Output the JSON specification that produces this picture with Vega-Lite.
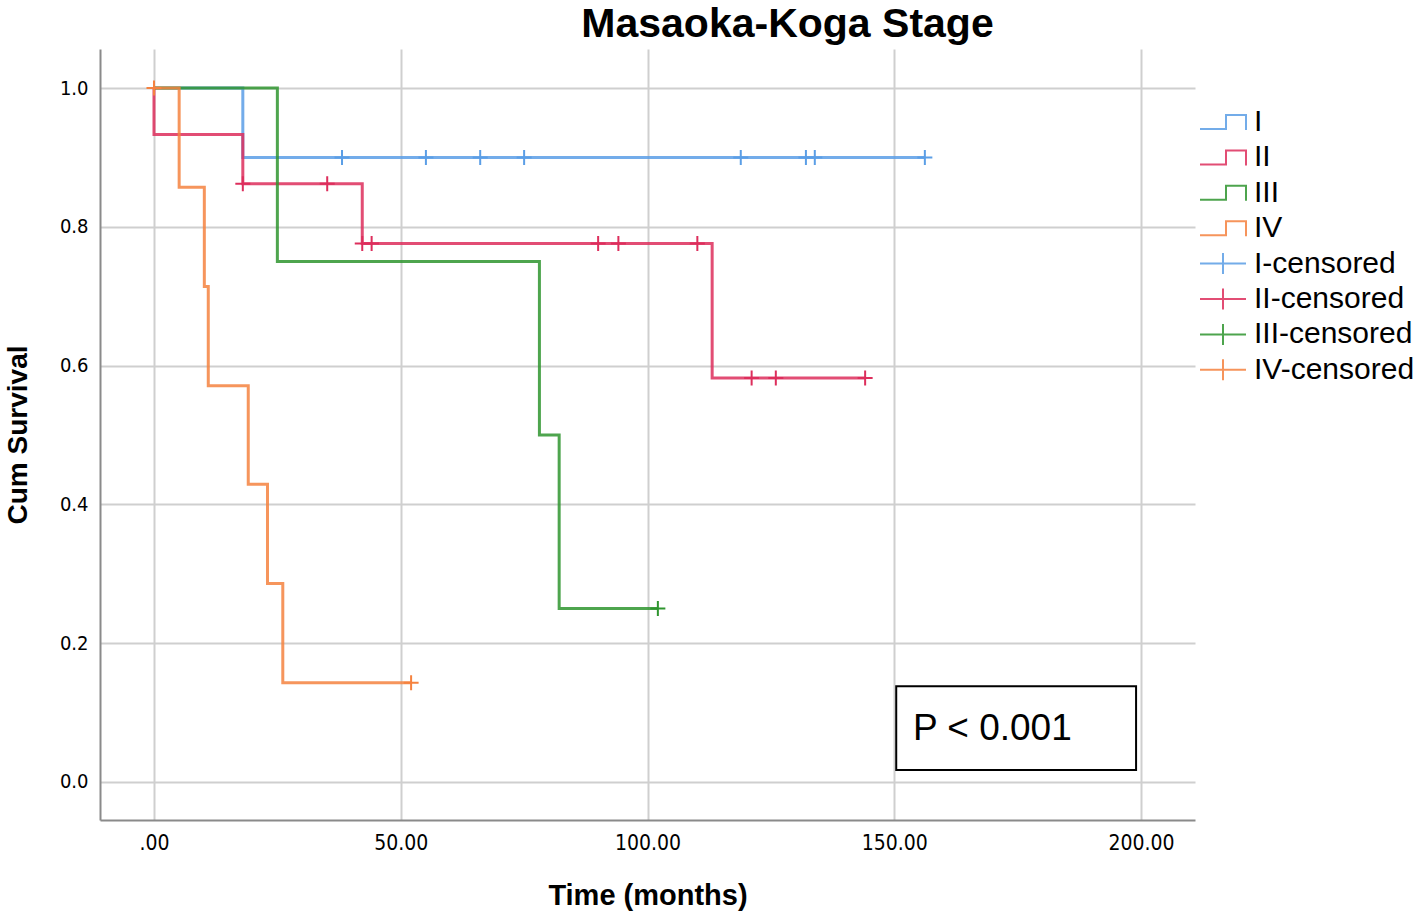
{
  "$schema": "https://vega.github.io/schema/vega-lite/v6.json",
  "width": 1095,
  "height": 771,
  "autosize": "none",
  "padding": {"left": 100, "top": 49, "right": 223, "bottom": 94},
  "background": "white",
  "config": {"view": {"stroke": null}, "font": "Liberation Sans"},
  "title": {"text": "Masaoka-Koga Stage", "fontSize": 41, "fontWeight": "bold", "font": "Liberation Sans", "anchor": "middle", "dx": 140, "offset": 3, "color": "black"},
  "datasets": {
    "steps": [
      {"series": "I", "time": 0, "surv": 1.0},
      {"series": "I", "time": 18.0, "surv": 0.9},
      {"series": "I", "time": 156.2, "surv": 0.9},
      {"series": "II", "time": 0, "surv": 1.0},
      {"series": "II", "time": 0, "surv": 0.933},
      {"series": "II", "time": 18.0, "surv": 0.862},
      {"series": "II", "time": 42.2, "surv": 0.776},
      {"series": "II", "time": 113.1, "surv": 0.582},
      {"series": "II", "time": 144.1, "surv": 0.582},
      {"series": "III", "time": 0, "surv": 1.0},
      {"series": "III", "time": 25.0, "surv": 0.75},
      {"series": "III", "time": 78.1, "surv": 0.5},
      {"series": "III", "time": 82.1, "surv": 0.25},
      {"series": "III", "time": 102.1, "surv": 0.25},
      {"series": "IV", "time": 0, "surv": 1.0},
      {"series": "IV", "time": 5.1, "surv": 0.857},
      {"series": "IV", "time": 10.2, "surv": 0.714},
      {"series": "IV", "time": 11.0, "surv": 0.571},
      {"series": "IV", "time": 19.1, "surv": 0.429},
      {"series": "IV", "time": 23.0, "surv": 0.286},
      {"series": "IV", "time": 26.1, "surv": 0.143},
      {"series": "IV", "time": 52.1, "surv": 0.143}
    ],
    "censored": [
      {"series": "I-censored", "time": 38.1, "surv": 0.9},
      {"series": "I-censored", "time": 55.1, "surv": 0.9},
      {"series": "I-censored", "time": 66.1, "surv": 0.9},
      {"series": "I-censored", "time": 75.0, "surv": 0.9},
      {"series": "I-censored", "time": 118.9, "surv": 0.9},
      {"series": "I-censored", "time": 132.1, "surv": 0.9},
      {"series": "I-censored", "time": 133.9, "surv": 0.9},
      {"series": "I-censored", "time": 156.2, "surv": 0.9},
      {"series": "II-censored", "time": 18.0, "surv": 0.862},
      {"series": "II-censored", "time": 35.1, "surv": 0.862},
      {"series": "II-censored", "time": 42.2, "surv": 0.776},
      {"series": "II-censored", "time": 44.1, "surv": 0.776},
      {"series": "II-censored", "time": 90.0, "surv": 0.776},
      {"series": "II-censored", "time": 94.1, "surv": 0.776},
      {"series": "II-censored", "time": 110.1, "surv": 0.776},
      {"series": "II-censored", "time": 121.1, "surv": 0.582},
      {"series": "II-censored", "time": 126.0, "surv": 0.582},
      {"series": "II-censored", "time": 144.1, "surv": 0.582},
      {"series": "III-censored", "time": 102.1, "surv": 0.25},
      {"series": "IV-censored", "time": 0, "surv": 1.0},
      {"series": "IV-censored", "time": 52.1, "surv": 0.143}
    ],
    "note": [{"label": "P < 0.001"}]
  },
  "layer": [
    {
      "data": {"name": "steps"},
      "mark": {"type": "line", "interpolate": "step-after", "opacity": 0.85},
      "encoding": {
        "x": {
          "field": "time", "type": "quantitative",
          "scale": {"domain": [-10.94, 210.94], "nice": false, "zero": false},
          "axis": {
            "values": [0, 50, 100, 150, 200],
            "labelExpr": "datum.value == 0 ? '.00' : format(datum.value, '.2f')",
            "labelFont": "DejaVu Sans Condensed, DejaVu Sans", "labelFontSize": 21, "labelColor": "black",
            "labelPadding": 12, "ticks": false,
            "domainColor": "#8a8a8a", "domainWidth": 2,
            "gridColor": "#cfcfcf", "gridWidth": 2,
            "title": "Time (months)", "titleFont": "Liberation Sans", "titleFontSize": 29,
            "titleFontWeight": "bold", "titleColor": "black", "titlePadding": 28
          }
        },
        "y": {
          "field": "surv", "type": "quantitative",
          "scale": {"domain": [-0.0548, 1.0562], "nice": false, "zero": false},
          "axis": {
            "values": [0, 0.2, 0.4, 0.6, 0.8, 1.0], "format": ".1f",
            "labelFont": "DejaVu Sans Condensed, DejaVu Sans", "labelFontSize": 20, "labelColor": "black",
            "labelPadding": 12, "ticks": false,
            "domainColor": "#8a8a8a", "domainWidth": 2,
            "gridColor": "#cfcfcf", "gridWidth": 2,
            "title": "Cum Survival", "titleFont": "Liberation Sans", "titleFontSize": 28,
            "titleFontWeight": "bold", "titleColor": "black", "titlePadding": 27
          }
        },
        "color": {
          "field": "series", "type": "nominal",
          "scale": {
            "domain": ["I", "II", "III", "IV", "I-censored", "II-censored", "III-censored", "IV-censored"],
            "range": ["#5b9ee6", "#dd2e5c", "#2f952f", "#f5823f", "#5b9ee6", "#dd2e5c", "#2f952f", "#f5823f"]
          },
          "legend": {
            "title": null, "orient": "none", "legendX": 1108, "legendY": 58,
            "padding": 0, "symbolSize": 400, "symbolStrokeWidth": 2,
            "labelFont": "Liberation Sans", "labelFontSize": 30, "labelColor": "black",
            "labelOffset": 16, "labelLimit": 400, "rowPadding": 5.4
          }
        },
        "strokeWidth": {
          "field": "series", "type": "nominal",
          "scale": {"domain": ["I", "II", "III", "IV"], "range": [3, 3, 2, 2]},
          "legend": null
        }
      }
    },
    {
      "data": {"name": "censored"},
      "mark": {"type": "point", "filled": false, "shape": "M-1,0L1,0M0,-1L0,1", "size": 225, "strokeWidth": 2, "opacity": 1},
      "encoding": {
        "x": {"field": "time", "type": "quantitative"},
        "y": {"field": "surv", "type": "quantitative"},
        "color": {
          "field": "series", "type": "nominal",
          "legend": {
            "title": null, "orient": "none", "legendX": 1108, "legendY": 58,
            "padding": 0, "symbolSize": 400, "symbolStrokeWidth": 2,
            "labelFont": "Liberation Sans", "labelFontSize": 30, "labelColor": "black",
            "labelOffset": 16, "labelLimit": 400, "rowPadding": 5.4
          }
        }
      }
    },
    {
      "data": {"name": "censored"},
      "transform": [{"filter": "false"}],
      "mark": {"type": "point", "filled": false, "strokeWidth": 2, "opacity": 1},
      "encoding": {
        "x": {"field": "time", "type": "quantitative"},
        "y": {"field": "surv", "type": "quantitative"},
        "color": {
          "field": "series", "type": "nominal",
          "legend": {
            "title": null, "orient": "none", "legendX": 1108, "legendY": 58,
            "padding": 0, "symbolSize": 400, "symbolStrokeWidth": 2,
            "labelFont": "Liberation Sans", "labelFontSize": 30, "labelColor": "black",
            "labelOffset": 16, "labelLimit": 400, "rowPadding": 5.4
          }
        },
        "shape": {
          "field": "series", "type": "nominal",
          "scale": {
            "domain": ["I", "II", "III", "IV", "I-censored", "II-censored", "III-censored", "IV-censored"],
            "range": [
              "M-2.3,0.7L0.3,0.7L0.3,-0.7L2.3,-0.7L2.3,0.8",
              "M-2.3,0.7L0.3,0.7L0.3,-0.7L2.3,-0.7L2.3,0.8",
              "M-2.3,0.7L0.3,0.7L0.3,-0.7L2.3,-0.7L2.3,0.8",
              "M-2.3,0.7L0.3,0.7L0.3,-0.7L2.3,-0.7L2.3,0.8",
              "M-2.3,0L2.3,0M0,-1.05L0,1.05",
              "M-2.3,0L2.3,0M0,-1.05L0,1.05",
              "M-2.3,0L2.3,0M0,-1.05L0,1.05",
              "M-2.3,0L2.3,0M0,-1.05L0,1.05"
            ]
          },
          "legend": {
            "title": null, "orient": "none", "legendX": 1108, "legendY": 58,
            "padding": 0, "symbolSize": 400, "symbolStrokeWidth": 2,
            "labelFont": "Liberation Sans", "labelFontSize": 30, "labelColor": "black",
            "labelOffset": 16, "labelLimit": 400, "rowPadding": 5.4
          }
        }
      }
    },
    {
      "data": {"name": "note"},
      "mark": {"type": "rect", "fill": "white", "stroke": "black", "strokeWidth": 2},
      "encoding": {
        "x": {"datum": 150.4, "type": "quantitative"},
        "x2": {"datum": 199.0},
        "y": {"datum": 0.138, "type": "quantitative"},
        "y2": {"datum": 0.0173}
      }
    },
    {
      "data": {"name": "note"},
      "mark": {"type": "text", "align": "left", "baseline": "middle", "fontSize": 37, "font": "Liberation Sans", "color": "black"},
      "encoding": {
        "x": {"datum": 153.8, "type": "quantitative"},
        "y": {"datum": 0.0764, "type": "quantitative"},
        "text": {"field": "label"}
      }
    }
  ]
}
